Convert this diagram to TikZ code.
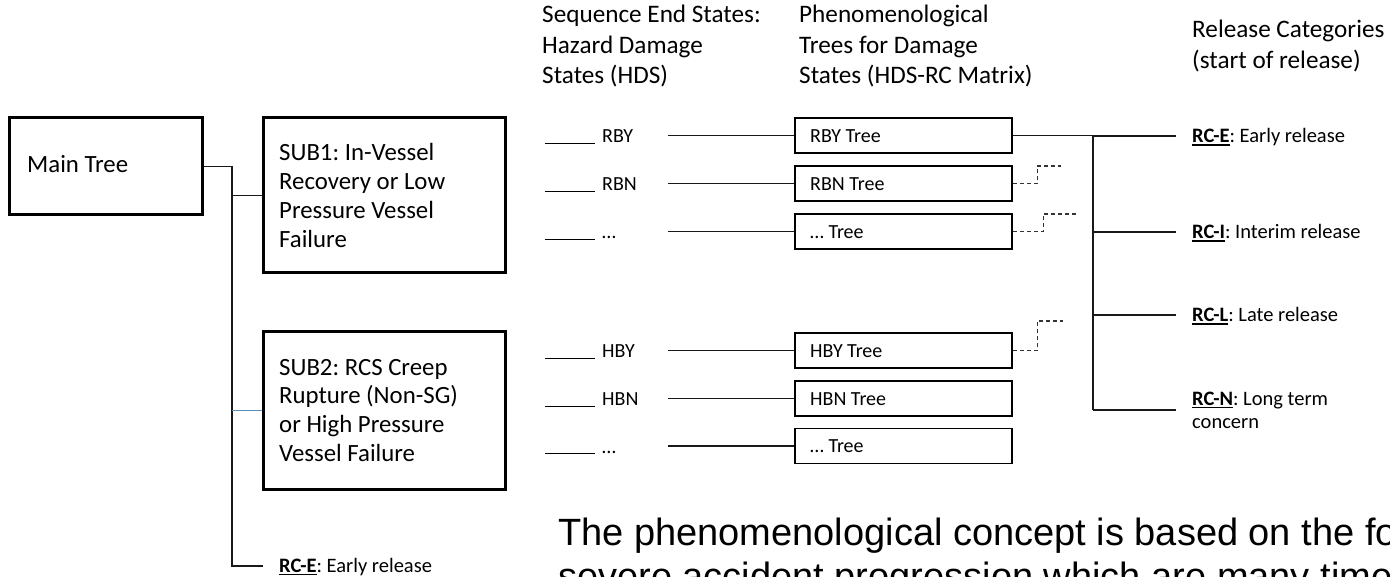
\documentclass[tikz,border=0pt]{standalone}
\usepackage{fontspec}
\setmainfont{Carlito}
\newfontfamily\arialfont{Liberation Sans}
\frenchspacing
\definecolor{linkblue}{RGB}{90,140,190}
% stacked left-aligned lines; the block's baseline is that of its first line
\newcommand\linesblock[1]{\vtop{\halign{##\hfil\cr#1\crcr}}}
% bold, underlined category code
\newcommand\rcul[1]{\setbox0\hbox{\bfseries #1}\rlap{\rule[-2.8pt]{\wd0}{1.3pt}}\box0}
% blank line drawn in front of a state name
\newcommand\stub[1]{\rule[-0.8pt]{50pt}{1.2pt}\hspace{7pt}#1}
\begin{document}
\begin{tikzpicture}[x=1pt,y=-1pt,
  wire/.style={line width=1.3pt, draw=black!90},
  dashwire/.style={line width=1.3pt, draw=black!80, dash pattern=on 4pt off 3pt},
  bigbox/.style={draw, line width=3pt, inner sep=0pt},
  bigtext/.style={anchor=base west, inner sep=0pt, font=\fontsize{24.8}{28.7}\selectfont},
  treebox/.style={draw, line width=1.5pt, minimum width=217pt, minimum height=35pt, inner sep=0pt},
  head/.style={anchor=base west, inner sep=0pt, font=\fontsize{25.2}{30.3}\selectfont},
  lbl/.style={anchor=base west, inner sep=0pt, font=\fontsize{20}{24}\selectfont},
  rclbl/.style={anchor=base west, inner sep=0pt, font=\fontsize{20.5}{24}\selectfont},
]
\useasboundingbox (0,0) rectangle (1390,577);
\clip (0,0) rectangle (1390,577);

% main tree and its two sub-trees
\node[bigbox, minimum width=193pt, minimum height=97pt] (main) at (105.5,166.5) {};
\node[bigtext] (mainT) at (27,173) {Main Tree};
\node[bigbox, minimum width=242pt, minimum height=155pt] (sub1) at (384.5,195.5) {};
\node[bigtext] (sub1T) at (279,161)
  {\linesblock{SUB1: In-Vessel\cr Recovery or Low\cr Pressure Vessel\cr Failure}};
\node[bigbox, minimum width=242pt, minimum height=157pt] (sub2) at (384.5,410.5) {};
\node[bigtext] (sub2T) at (279,375)
  {\linesblock{SUB2: RCS Creep\cr Rupture (Non-SG)\cr or High Pressure\cr Vessel Failure}};

\coordinate (spTop) at (232,166.5);
\coordinate (spBot) at (232,566);
\coordinate (rceL) at (263,566);
\draw[wire] (main.east) -- (spTop) -- (spBot) -- (rceL);
\draw[wire] (spTop |- sub1.west) -- (sub1.west);
\draw[wire, draw=linkblue] (spTop |- sub2.west) -- (sub2.west);
\node[rclbl] (rcbot) at (279,572) {\rcul{RC-E}: Early release};

% column headings
\node[head] (hA) at (542,23) {\linesblock{Sequence End States:\cr Hazard Damage\cr States (HDS)}};
\node[head] (hB) at (799,23) {\linesblock{Phenomenological\cr Trees for Damage\cr States (HDS-RC Matrix)}};
\node[head] (hC) at (1192,38) {\linesblock{Release Categories\cr (start of release)}};

% end states and their phenomenological trees
\foreach \n/\c/\lab in {RBY/135.5/RBY, RBN/183.5/RBN, RD/231.5/…, HBY/350.5/HBY, HBN/398.5/HBN, HD/446/…}{
  \node[lbl] (s\n) at (545,\c+7.5) {\stub{\lab}};
  \node[treebox] (t\n) at (903.5,\c) {};
  \node[lbl] (t\n T) at (810,\c+6.8) {\lab\ Tree};
  \coordinate (a\n) at (668,\c);
  \draw[wire] (a\n) -- (t\n.west);
}

% release category bus
\coordinate (busT) at (1093,136);
\coordinate (busB) at (1093,410);
\draw[wire] (tRBY.east) -- (tRBY.east -| busT) -- (busB);
\foreach \n/\y/\a/\b in {E/136/RC-E/Early release, I/232/RC-I/Interim release, L/315/RC-L/Late release}{
  \coordinate (tap\n) at (1093,\y);
  \coordinate (end\n) at (1176,\y);
  \draw[wire] (tap\n) -- (end\n);
  \node[rclbl] (rc\n) at (1192,\y+7) {\rcul{\a}: \b};
}
\coordinate (endN) at (1176,410);
\draw[wire] (busB) -- (endN);
\node[rclbl] (rcN) at (1192,405) {\linesblock{\rcul{RC-N}: Long term\cr concern}};

% dashed branches
\draw[dashwire] (tRBN.east) -- ++(25,0) |- ++(23,-17.5);
\draw[dashwire] (tRD.east) -- ++(31,0) |- ++(33,-17.5);
\draw[dashwire] (tHBY.east) -- ++(25,0) |- ++(25,-29.5);

% running text
\node[anchor=base west, inner sep=0pt, font=\arialfont\fontsize{38}{44}\selectfont] (note) at (558,545)
  {\linesblock{The phenomenological concept is based on the fo\cr severe accident progression which are many time}};
\end{tikzpicture}
\end{document}
